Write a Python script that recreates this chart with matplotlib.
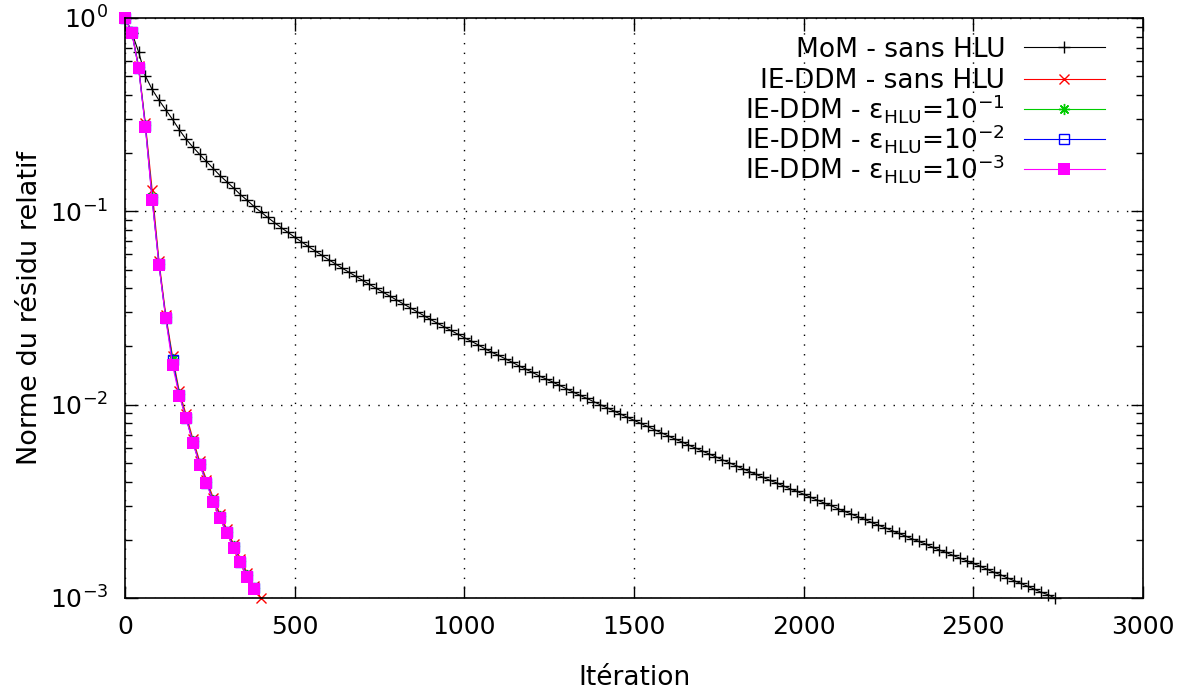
import numpy as np
import matplotlib.pyplot as plt
from matplotlib.ticker import LogLocator, NullFormatter, MultipleLocator

# ===================================================
# DONNEES (une valeur toutes les 20 itérations)
# ===================================================

pas = 20

residu_mom = [
    1.0, 0.841, 0.668, 0.501, 0.427, 0.376, 0.335, 0.299, 0.264, 0.236,
    0.215, 0.197, 0.181, 0.166, 0.153, 0.142, 0.132, 0.122, 0.114, 0.106,
    0.0993, 0.0931, 0.0875, 0.0824, 0.0778, 0.0735, 0.0695, 0.0658, 0.0624, 0.0592,
    0.0562, 0.0535, 0.0508, 0.0484, 0.0461, 0.0440, 0.0419, 0.0400, 0.0382, 0.0365,
    0.0348, 0.0332, 0.0317, 0.0303, 0.0289, 0.0276, 0.0264, 0.0253, 0.0242, 0.0232,
    0.0222, 0.0213, 0.0204, 0.0195, 0.0187, 0.0180, 0.0173, 0.0166, 0.0159, 0.0153,
    0.0147, 0.0141, 0.0136, 0.0131, 0.0126, 0.0121, 0.01164, 0.01119, 0.01079, 0.01038,
    0.0100, 0.00964, 0.00929, 0.00894, 0.00861, 0.00830, 0.00800, 0.00771, 0.00743, 0.00716,
    0.00690, 0.00665, 0.00643, 0.00619, 0.00598, 0.00577, 0.00557, 0.00537, 0.00519, 0.00501,
    0.00483, 0.00467, 0.00451, 0.00436, 0.00421, 0.00406, 0.00394, 0.00380, 0.00367, 0.00356,
    0.00344, 0.00332, 0.00321, 0.00310, 0.00301, 0.00290, 0.00281, 0.00272, 0.00263, 0.00255,
    0.00246, 0.00238, 0.00231, 0.00223, 0.00216, 0.00209, 0.00202, 0.00196, 0.00190, 0.00183,
    0.00177, 0.00172, 0.00166, 0.00161, 0.00156, 0.00151, 0.00146, 0.00141, 0.00136, 0.00132,
    0.00127, 0.00123, 0.00119, 0.00115, 0.00111, 0.00107, 0.00104, 0.00100,
]

residu_ddm = [
    1.0, 0.85, 0.565, 0.285, 0.129, 0.0555, 0.0292, 0.0178, 0.0117, 0.0089,
    0.00665, 0.00510, 0.00410, 0.00330, 0.00272, 0.00227, 0.00190, 0.00160, 0.00135, 0.00116,
    0.00100,
]

residu_hlu1 = [
    1.0, 0.845, 0.556, 0.278, 0.118, 0.0535, 0.0283, 0.0172, 0.0113, 0.0086,
    0.00645, 0.00495, 0.00398, 0.00320, 0.00264, 0.00220, 0.00185, 0.00155, 0.00131, 0.00112,
]

residu_hlu2 = [
    1.0, 0.842, 0.552, 0.275, 0.116, 0.0531, 0.0281, 0.0170, 0.0112, 0.00855,
    0.00640, 0.00492, 0.00395, 0.00318, 0.00262, 0.00219, 0.00184, 0.00154, 0.00130, 0.00112,
]

residu_hlu3 = [
    1.0, 0.839, 0.549, 0.272, 0.114, 0.0527, 0.0279, 0.0160, 0.0111, 0.00849,
    0.00635, 0.00488, 0.00392, 0.00315, 0.00260, 0.00217, 0.00182, 0.00153, 0.00129, 0.00111,
]

series = [
    ('MoM - sans HLU', residu_mom),
    ('IE-DDM - sans HLU', residu_ddm),
    ('IE-DDM - ε$_{HLU}$=10$^{-1}$', residu_hlu1),
    ('IE-DDM - ε$_{HLU}$=10$^{-2}$', residu_hlu2),
    ('IE-DDM - ε$_{HLU}$=10$^{-3}$', residu_hlu3),
]

styles = [
    dict(color='black', marker='+', markersize=8, markeredgewidth=1.0),
    dict(color='red', marker='x', markersize=7, markeredgewidth=1.0),
    dict(color='#00cc00', marker=(8, 2, 0), markersize=8, markeredgewidth=1.0),
    dict(color='blue', marker='s', markersize=7.5, markerfacecolor='none', markeredgewidth=1.0),
    dict(color='magenta', marker='s', markersize=8, markeredgewidth=0),
]

# ===================================================
# GRAPHIQUE
# ===================================================

plt.rcParams['font.family'] = 'DejaVu Sans'
plt.rcParams['mathtext.default'] = 'regular'
plt.rcParams['axes.unicode_minus'] = False

fig = plt.figure(figsize=(11.94, 6.91), dpi=100)
ax = fig.add_axes([0.1047, 0.1346, 0.8526, 0.8394])

courbes = []
for (nom, valeurs), st in zip(series, styles):
    it = np.arange(len(valeurs)) * pas
    l, = ax.plot(it, valeurs, linewidth=0.8, label=nom, clip_on=False, **st)
    courbes.append(l)

ax.set_yscale('log')
ax.set_xlim(0, 3000)
ax.set_ylim(1e-3, 1)

ax.xaxis.set_major_locator(MultipleLocator(500))
ax.yaxis.set_major_locator(LogLocator(base=10, numticks=10))
ax.yaxis.set_minor_locator(LogLocator(base=10, subs=np.arange(2, 10), numticks=10))
ax.yaxis.set_minor_formatter(NullFormatter())

ax.tick_params(which='both', direction='in', top=True, right=True, labelsize=18)
ax.tick_params(which='major', length=9, width=1, pad=12)
ax.tick_params(which='minor', length=5, width=1)

ax.grid(True, which='major', color='black', linestyle=(0, (1, 6)), linewidth=1)

for s in ax.spines.values():
    s.set_linewidth(1.2)

ax.set_xlabel('Itération', fontsize=19, labelpad=19)
ax.set_ylabel('Norme du résidu relatif', fontsize=19.5, labelpad=5)

# légende en deux blocs pour garder un interligne régulier
opts = dict(loc='upper right', frameon=False, markerfirst=False, fontsize=19,
            handlelength=3.1, handletextpad=0.7, borderpad=0, borderaxespad=0)
leg1 = ax.legend(handles=courbes[:2], bbox_to_anchor=(0.963, 0.968),
                 labelspacing=0.2, **opts)
ax.add_artist(leg1)
ax.legend(handles=courbes[2:], bbox_to_anchor=(0.963, 0.872),
          labelspacing=-0.12, **opts)

fig.savefig('out.png', dpi=100)
